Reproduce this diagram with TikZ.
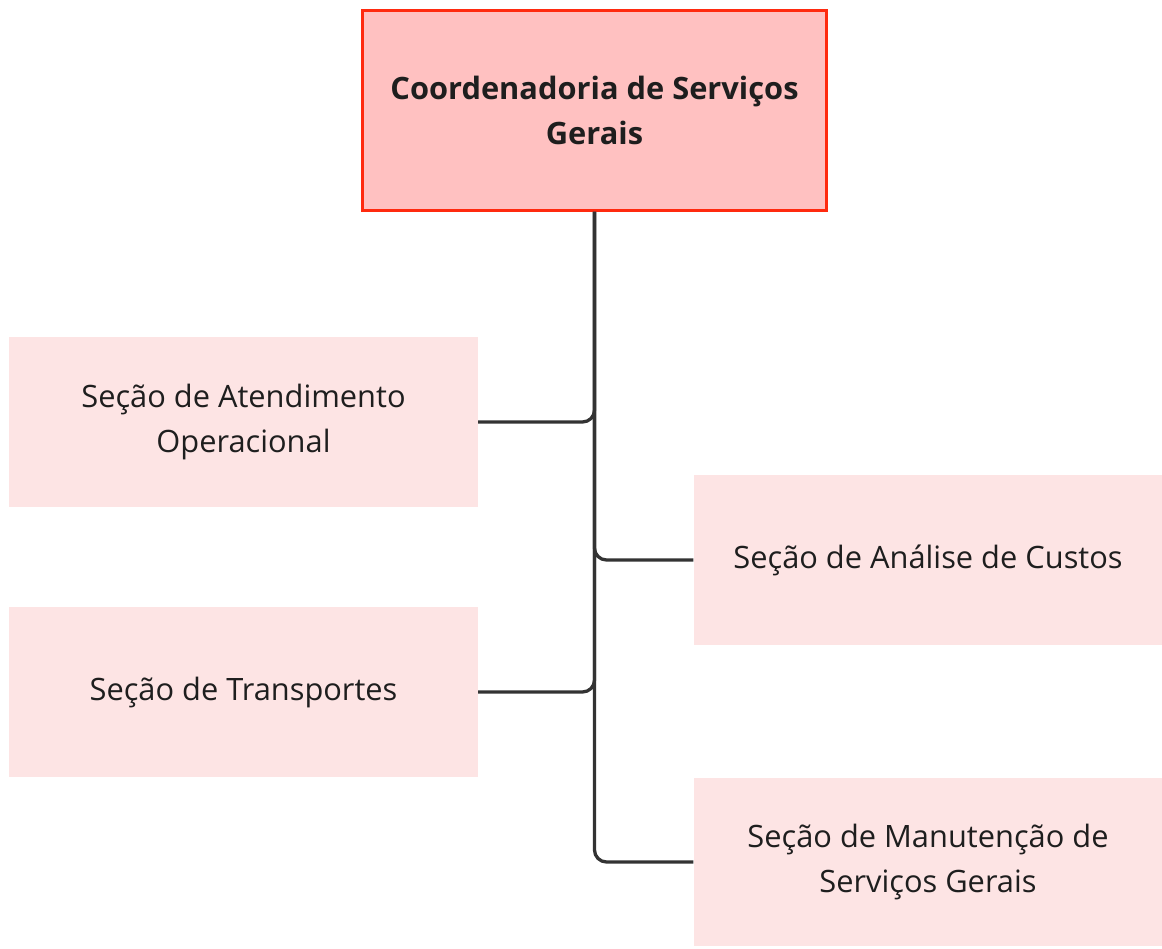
\documentclass[tikz,border=0pt]{standalone}
\usepackage{fontspec}
\setmainfont{Open Sans}
\definecolor{topfill}{HTML}{FFC1C1}
\definecolor{topdraw}{HTML}{FF2A0F}
\definecolor{subfill}{HTML}{FDE4E4}
\definecolor{linecol}{HTML}{333333}
\definecolor{txt}{HTML}{1E1E1E}
\tikzset{
  topbox/.style={draw=topdraw, line width=3pt, fill=topfill, minimum width=464pt, minimum height=200pt, align=center, inner sep=0pt, font=\fontsize{30.8}{45}\selectfont\bfseries, text=txt},
  subbox/.style={fill=subfill, draw=none, minimum width=469pt, minimum height=170pt, align=center, inner sep=0pt, font=\fontsize{30.8}{45}\selectfont, text=txt},
  conn/.style={draw=linecol, line width=3.3pt, rounded corners=12pt}
}
\begin{document}
\begin{tikzpicture}[x=1pt,y=-1pt]
\useasboundingbox (0,0) rectangle (1162,949);
\node[topbox] (top) at (594.5,110.5) {Coordenadoria de Serviços\\Gerais};
\node[subbox] (atend) at (243.5,422) {Seção de Atendimento\\Operacional};
\node[subbox] (transp) at (243.5,692) {Seção de Transportes};
\node[subbox] (custos) at (928,560) {Seção de Análise de Custos};
\node[subbox, minimum height=168pt] (manut) at (928,862) {Seção de Manutenção de\\Serviços Gerais};
\draw[conn] (top.south) |- (atend.east);
\draw[conn] (top.south) |- (transp.east);
\draw[conn] (top.south) |- (custos.west);
\draw[conn] (top.south) |- (manut.west);
\end{tikzpicture}
\end{document}
